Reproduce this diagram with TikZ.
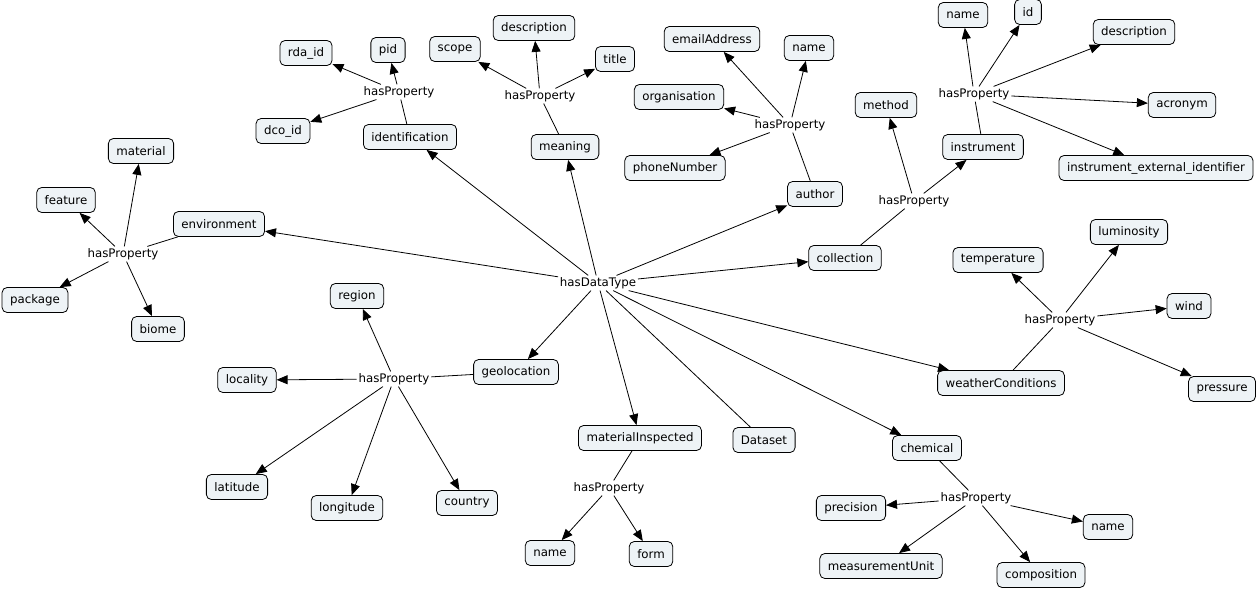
\documentclass[tikz,border=0pt]{standalone}
\usepackage{fontspec}
\setmainfont{DejaVu Sans}
\usetikzlibrary{arrows.meta}
\definecolor{conceptfill}{RGB}{238,243,246}
\tikzset{
	concept/.style={draw, line width=0.8pt, rounded corners=5pt, fill=conceptfill, minimum height=25pt, inner xsep=8pt, font=\fontsize{11.8}{14}\selectfont},
	link/.style={inner sep=1.5pt, font=\fontsize{11.8}{14}\selectfont},
	arr/.style={-{Triangle[length=11pt,width=9pt]}},
}
\begin{document}
\begin{tikzpicture}[x=1pt, y=-1pt, line width=0.8pt]
	\useasboundingbox (0,0) rectangle (1260,591);
	% centre
	\node (hasDataType) at (598,283) [link] {hasDataType};
	\node (Dataset) at (764,440) [concept] {Dataset};

	% environment
	\node (environment) at (219,224) [concept] {environment};
	\node (hpEnv) at (123,254) [link] {hasProperty};
	\node (material) at (141,151) [concept] {material};
	\node (feature) at (66,200) [concept] {feature};
	\node (package) at (35,300) [concept] {package};
	\node (biome) at (158,329) [concept] {biome};

	% identification
	\node (identification) at (410,137) [concept] {identification};
	\node (hpIdent) at (399,92) [link] {hasProperty};
	\node (rdaId) at (306,53) [concept] {rda\_id};
	\node (pid) at (388,50) [concept] {pid};
	\node (dcoId) at (283,131) [concept] {dco\_id};

	% meaning
	\node (meaning) at (565,147) [concept] {meaning};
	\node (hpMeaning) at (540,96) [link] {hasProperty};
	\node (scope) at (455,49) [concept] {scope};
	\node (descMeaning) at (534,28) [concept] {description};
	\node (title) at (615,59) [concept] {title};

	% author
	\node (author) at (815,194) [concept] {author};
	\node (hpAuthor) at (790,125) [link] {hasProperty};
	\node (emailAddress) at (712,39) [concept] {emailAddress};
	\node (nameAuthor) at (809,48) [concept] {name};
	\node (organisation) at (679,97) [concept] {organisation};
	\node (phoneNumber) at (675,168) [concept] {phoneNumber};

	% collection
	\node (collection) at (845,258) [concept] {collection};
	\node (hpCollection) at (914,201) [link] {hasProperty};
	\node (method) at (886,105) [concept] {method};
	\node (instrument) at (983,147) [concept] {instrument};
	\node (hpInstr) at (974,94) [link] {hasProperty};
	\node (nameInstr) at (963,15) [concept] {name};
	\node (idInstr) at (1028,12) [concept] {id};
	\node (descInstr) at (1134,32) [concept] {description};
	\node (acronym) at (1182,105) [concept] {acronym};
	\node (extId) at (1156,168) [concept] {instrument\_external\_identifier};

	% weatherConditions
	\node (weather) at (1001,383) [concept] {weatherConditions};
	\node (hpWeather) at (1060,320) [link] {hasProperty};
	\node (luminosity) at (1129,232) [concept] {luminosity};
	\node (temperature) at (998,260) [concept] {temperature};
	\node (wind) at (1189,306) [concept] {wind};
	\node (pressure) at (1222,389) [concept] {pressure};

	% geolocation
	\node (geolocation) at (516,372) [concept] {geolocation};
	\node (hpGeo) at (394,379) [link] {hasProperty};
	\node (region) at (357,296) [concept] {region};
	\node (locality) at (247,380) [concept] {locality};
	\node (latitude) at (237,487) [concept] {latitude};
	\node (longitude) at (347,508) [concept] {longitude};
	\node (country) at (467,503) [concept] {country};

	% materialInspected
	\node (matInspected) at (640,438) [concept] {materialInspected};
	\node (hpMat) at (609,488) [link] {hasProperty};
	\node (nameMat) at (550,553) [concept] {name};
	\node (form) at (651,554) [concept] {form};

	% chemical
	\node (chemical) at (927,448) [concept] {chemical};
	\node (hpChem) at (976,498) [link] {hasProperty};
	\node (precision) at (851,508) [concept] {precision};
	\node (nameChem) at (1108,527) [concept] {name};
	\node (measurementUnit) at (881,566) [concept] {measurementUnit};
	\node (composition) at (1041,575) [concept] {composition};

	% links from the centre
	\draw (Dataset) -- (hasDataType);
	\draw [arr] (hasDataType) -- (environment);
	\draw [arr] (hasDataType) -- (identification);
	\draw [arr] (hasDataType) -- (meaning);
	\draw [arr] (hasDataType) -- (author);
	\draw [arr] (hasDataType) -- (collection);
	\draw [arr] (hasDataType) -- (weather);
	\draw [arr] (hasDataType) -- (chemical);
	\draw [arr] (hasDataType) -- (matInspected);
	\draw [arr] (hasDataType) -- (geolocation);

	% properties
	\draw (environment) -- (hpEnv);
	\foreach \t in {material, feature, package, biome}
		\draw [arr] (hpEnv) -- (\t);
	\draw (identification) -- (hpIdent);
	\foreach \t in {rdaId, pid, dcoId}
		\draw [arr] (hpIdent) -- (\t);
	\draw (meaning) -- (hpMeaning);
	\foreach \t in {scope, descMeaning, title}
		\draw [arr] (hpMeaning) -- (\t);
	\draw (author) -- (hpAuthor);
	\foreach \t in {emailAddress, nameAuthor, organisation, phoneNumber}
		\draw [arr] (hpAuthor) -- (\t);
	\draw (collection) -- (hpCollection);
	\foreach \t in {method, instrument}
		\draw [arr] (hpCollection) -- (\t);
	\draw (instrument) -- (hpInstr);
	\foreach \t in {nameInstr, idInstr, descInstr, acronym, extId}
		\draw [arr] (hpInstr) -- (\t);
	\draw (weather) -- (hpWeather);
	\foreach \t in {luminosity, temperature, wind, pressure}
		\draw [arr] (hpWeather) -- (\t);
	\draw (geolocation) -- (hpGeo);
	\foreach \t in {region, locality, latitude, longitude, country}
		\draw [arr] (hpGeo) -- (\t);
	\draw (matInspected) -- (hpMat);
	\foreach \t in {nameMat, form}
		\draw [arr] (hpMat) -- (\t);
	\draw (chemical) -- (hpChem);
	\foreach \t in {precision, nameChem, measurementUnit, composition}
		\draw [arr] (hpChem) -- (\t);
\end{tikzpicture}
\end{document}
